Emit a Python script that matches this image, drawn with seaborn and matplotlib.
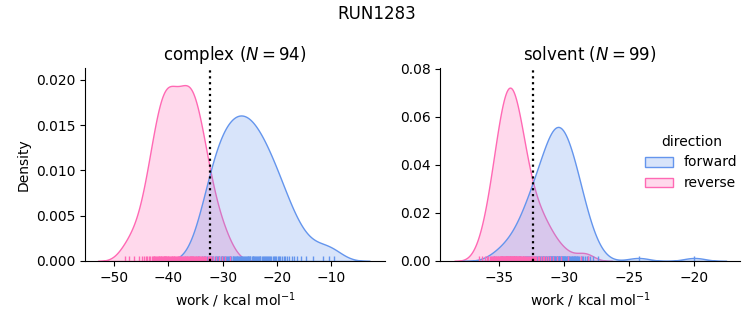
import matplotlib
matplotlib.use("Agg")
import matplotlib.pyplot as plt
import seaborn as sns
import pandas as pd

# work values (kcal/mol) read from the rug / density shapes
complex_forward = [
    -34.6,
    -33.9, -33.5, -33.2,
    -32.9, -32.6, -32.4, -32.1,
    -31.9, -31.7, -31.5, -31.3, -31.1,
    -30.9, -30.7, -30.6, -30.4, -30.2, -30.05,
    -29.9, -29.7, -29.6, -29.4, -29.2, -29.05,
    -28.9, -28.7, -28.6, -28.4, -28.2, -28.05,
    -27.9, -27.7, -27.6, -27.4, -27.3, -27.2, -27.05,
    -26.9, -26.7, -26.6, -26.4, -26.2, -26.1,
    -25.9, -25.8, -25.6, -25.4, -25.3, -25.1, -25.0,
    -24.9, -24.7, -24.5, -24.4, -24.2, -24.0,
    -23.9, -23.7, -23.5, -23.4, -23.2, -23.05,
    -22.8, -22.6, -22.4, -22.3, -22.1,
    -21.9, -21.7, -21.5, -21.3, -21.1,
    -20.8, -20.6, -20.4, -20.1,
    -19.9, -19.6, -19.4, -19.1,
    -18.8, -18.5, -18.2,
    -17.8, -17.3,
    -16.8, -16.3,
    -15.5,
    -14.6, -13.4, -11.6, -10.4, -9.6,
]
complex_reverse = [
    -48.0, -47.2, -46.3,
    -45.5,
    -44.8, -44.5, -44.1,
    -43.9, -43.6, -43.4, -43.1,
    -42.9, -42.7, -42.6, -42.4, -42.2, -42.1,
    -41.9, -41.8, -41.7, -41.5, -41.4, -41.3, -41.1, -41.0,
    -40.9, -40.8, -40.7, -40.6, -40.5, -40.4, -40.2, -40.1, -40.0,
    -39.9, -39.7, -39.6, -39.4, -39.3, -39.1, -39.0,
    -38.9, -38.8, -38.6, -38.5, -38.3, -38.2, -38.0,
    -37.9, -37.8, -37.6, -37.5, -37.3, -37.2, -37.0,
    -36.9, -36.8, -36.6, -36.5, -36.4, -36.2, -36.1, -36.0,
    -35.9, -35.8, -35.7, -35.6, -35.5, -35.4, -35.2, -35.1, -35.0,
    -34.9, -34.8, -34.6, -34.4, -34.3, -34.1, -34.0,
    -33.8, -33.6, -33.4, -33.2, -33.0,
    -32.8, -32.6, -32.3, -32.1,
    -31.7, -31.2,
    -30.7, -30.2,
    -29.6, -28.7,
]
solvent_forward = [
    -35.4,
    -34.8, -34.5, -34.2,
    -33.9, -33.7, -33.5, -33.4, -33.2, -33.0,
    -32.95, -32.86, -32.8, -32.7, -32.62, -32.55, -32.47, -32.36, -32.3, -32.2, -32.13, -32.04,
    -31.97, -31.92, -31.85, -31.8, -31.74, -31.68, -31.62, -31.57, -31.5, -31.45,
    -31.4, -31.34, -31.28, -31.22, -31.17, -31.12, -31.07, -31.03, -31.0,
    -30.97, -30.92, -30.9, -30.85, -30.8, -30.78, -30.73, -30.7, -30.66, -30.6,
    -30.57, -30.54, -30.5, -30.45, -30.41, -30.38, -30.33, -30.3, -30.25, -30.2,
    -30.17, -30.12, -30.08, -30.05, -30.02,
    -29.97, -29.92, -29.87, -29.82, -29.77, -29.72, -29.66, -29.61, -29.56, -29.5,
    -29.45, -29.4, -29.35, -29.3, -29.25, -29.2, -29.15, -29.1, -29.05, -29.01,
    -28.95, -28.85, -28.75, -28.65, -28.55, -28.45, -28.3, -28.2, -28.05,
    -27.8, -27.4,
    -24.3, -20.0,
]
solvent_reverse = [
    -36.6,
    -36.35, -36.1,
    -35.95, -35.85, -35.75, -35.65, -35.55,
    -35.48, -35.43, -35.38, -35.33, -35.28, -35.23, -35.18, -35.13, -35.08, -35.03,
    -34.98, -34.95, -34.91, -34.87, -34.84, -34.8, -34.77, -34.73, -34.7, -34.66,
    -34.62, -34.59, -34.55, -34.52,
    -34.48, -34.45, -34.42, -34.39, -34.36, -34.33, -34.3, -34.27, -34.24, -34.21,
    -34.18, -34.15, -34.12, -34.09, -34.06, -34.03, -34.01,
    -33.98, -33.95, -33.91, -33.87, -33.84, -33.8, -33.77, -33.73, -33.7, -33.66,
    -33.62, -33.59, -33.55, -33.52,
    -33.48, -33.44, -33.4, -33.35, -33.31, -33.27, -33.22, -33.18, -33.13, -33.08,
    -33.03,
    -32.97, -32.9, -32.83, -32.76, -32.68, -32.6, -32.52,
    -32.45, -32.35, -32.25, -32.15, -32.05,
    -31.93, -31.8, -31.68, -31.55,
    -31.42, -31.25, -31.08,
    -30.85, -30.6,
    -30.25, -29.7, -28.7, -28.2,
]
phases = ["complex", "solvent"]
directions = ["forward", "reverse"]
free_energy = {"complex": -32.3, "solvent": -32.43}
colors = {"forward": "cornflowerblue", "reverse": "hotpink"}
title_text = "RUN1283"
xlabel_text = "work / kcal mol$^{-1}$"

series = {
    ("complex", "forward"): complex_forward,
    ("complex", "reverse"): complex_reverse,
    ("solvent", "forward"): solvent_forward,
    ("solvent", "reverse"): solvent_reverse,
}
rows = []
for (ph, d), vals in series.items():
    for v in vals:
        rows.append({"work": v, "direction": d, "phase": ph})
df = pd.DataFrame(rows)

g = sns.displot(
    data=df, x="work", hue="direction", col="phase", kind="kde",
    fill=True, rug=True, palette=colors, hue_order=directions,
    col_order=phases, height=3, aspect=1.2,
    facet_kws=dict(sharex=False, sharey=False),
)
fig = g.figure
fig.set_size_inches(7.53, 3.25)
fig.subplots_adjust(left=0.113, right=0.983, bottom=0.197, top=0.791, wspace=0.183)

xlims = {"complex": (-55.34, -0.09), "solvent": (-39.56, -16.48)}
ylims = {"complex": (0, 0.02133), "solvent": (0, 0.0804)}
for ax, ph in zip(g.axes.flat, phases):
    n = len(series[(ph, "forward")])
    ax.axvline(free_energy[ph], color="black", ls=":", lw=1.6)
    ax.set_title(f"{ph} ($N = {n}$)", fontsize=12)
    ax.set_xlabel(xlabel_text)
    ax.set_xlim(*xlims[ph])
    ax.set_ylim(*ylims[ph])
g.axes.flat[0].set_ylabel("Density")

sns.move_legend(g, "center", bbox_to_anchor=(0.918, 0.5), frameon=False)
fig.suptitle(title_text, fontsize=12, y=0.985)
fig.savefig("out.png", dpi=100)
